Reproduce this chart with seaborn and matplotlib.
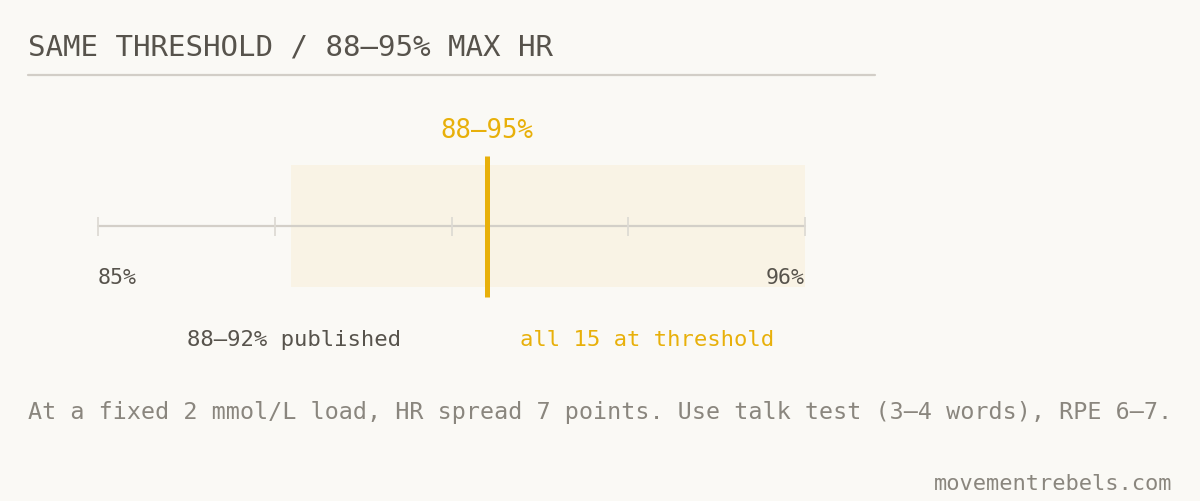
import matplotlib.pyplot as plt
import seaborn as sns
from matplotlib.lines import Line2D

# Chart values
scale_range = [85, 96]
tick_values = [85, 87.75, 90.5, 93.25, 96]
end_labels = ['85%', '96%']
published_band = [88, 96]
threshold_value = 91.05
threshold_label = '88–95%'

title = 'SAME THRESHOLD / 88–95% MAX HR'
left_note = '88–92% published'
right_note = 'all 15 at threshold'
caption = 'At a fixed 2 mmol/L load, HR spread 7 points. Use talk test (3–4 words), RPE 6–7.'
footer = 'movementrebels.com'

# Colours
bg = '#faf9f5'
band_color = '#f9f3e5'
gold = '#e8b00a'
dark = '#57534c'
muted = '#8a867e'
rule_color = '#d2cec7'

sns.set_theme(style='white')
plt.rcParams['font.family'] = ['DejaVu Sans Mono', 'DejaVu Sans']

W, H = 1200, 502
fig = plt.figure(figsize=(W / 100, H / 100), dpi=100, facecolor=bg)

def fx(px):
    return px / W

def fy(py):
    return 1 - py / H

# Axes covering the scale region (x: 85..96, y: line span)
ax = fig.add_axes([fx(98), fy(298), fx(805) - fx(98), fy(157) - fy(298)])
ax.set_facecolor('none')
ax.set_xlim(scale_range)
ax.set_ylim(0, 1)
ax.axis('off')

# Published band
ax.axvspan(published_band[0], published_band[1], ymin=0.068, ymax=0.936,
           color=band_color, lw=0, zorder=1)

# Baseline and ticks
sns.lineplot(x=scale_range, y=[0.504, 0.504], ax=ax, color='#d3cfc8',
             linewidth=1.6, zorder=2, clip_on=False)
ax.vlines(tick_values, 0.433, 0.567, color='#dedbd4', linewidth=1.3,
          zorder=2, clip_on=False)

# Threshold line
ax.axvline(threshold_value, 0, 1, color=gold, linewidth=3.6, zorder=3,
           clip_on=False, solid_capstyle='butt')
ax.text(threshold_value, 1.133, threshold_label, ha='center', va='baseline',
        fontsize=18.5, color=gold, clip_on=False)

# End labels
ax.text(scale_range[0], 0.097, end_labels[0], ha='left', va='baseline',
        fontsize=15.5, color=dark)
ax.text(scale_range[1], 0.097, end_labels[1], ha='right', va='baseline',
        fontsize=15.5, color=dark)

# Title and rule
fig.text(fx(28), fy(56), title, ha='left', va='baseline', fontsize=21,
         color=dark)
fig.add_artist(Line2D([fx(28), fx(875)], [fy(76), fy(76)], color=rule_color,
                      linewidth=1.6))

# Notes under the scale
fig.text(fx(187), fy(346), left_note, ha='left', va='baseline', fontsize=16,
         color=dark)
fig.text(fx(520), fy(346), right_note, ha='left', va='baseline', fontsize=16,
         color=gold)

# Caption and footer
fig.text(fx(28), fy(419.5), caption, ha='left', va='baseline', fontsize=16.8,
         color=muted)
fig.text(fx(1172), fy(490.5), footer, ha='right', va='baseline', fontsize=15.8,
         color=muted)

fig.savefig('out.png', dpi=100, facecolor=bg)
